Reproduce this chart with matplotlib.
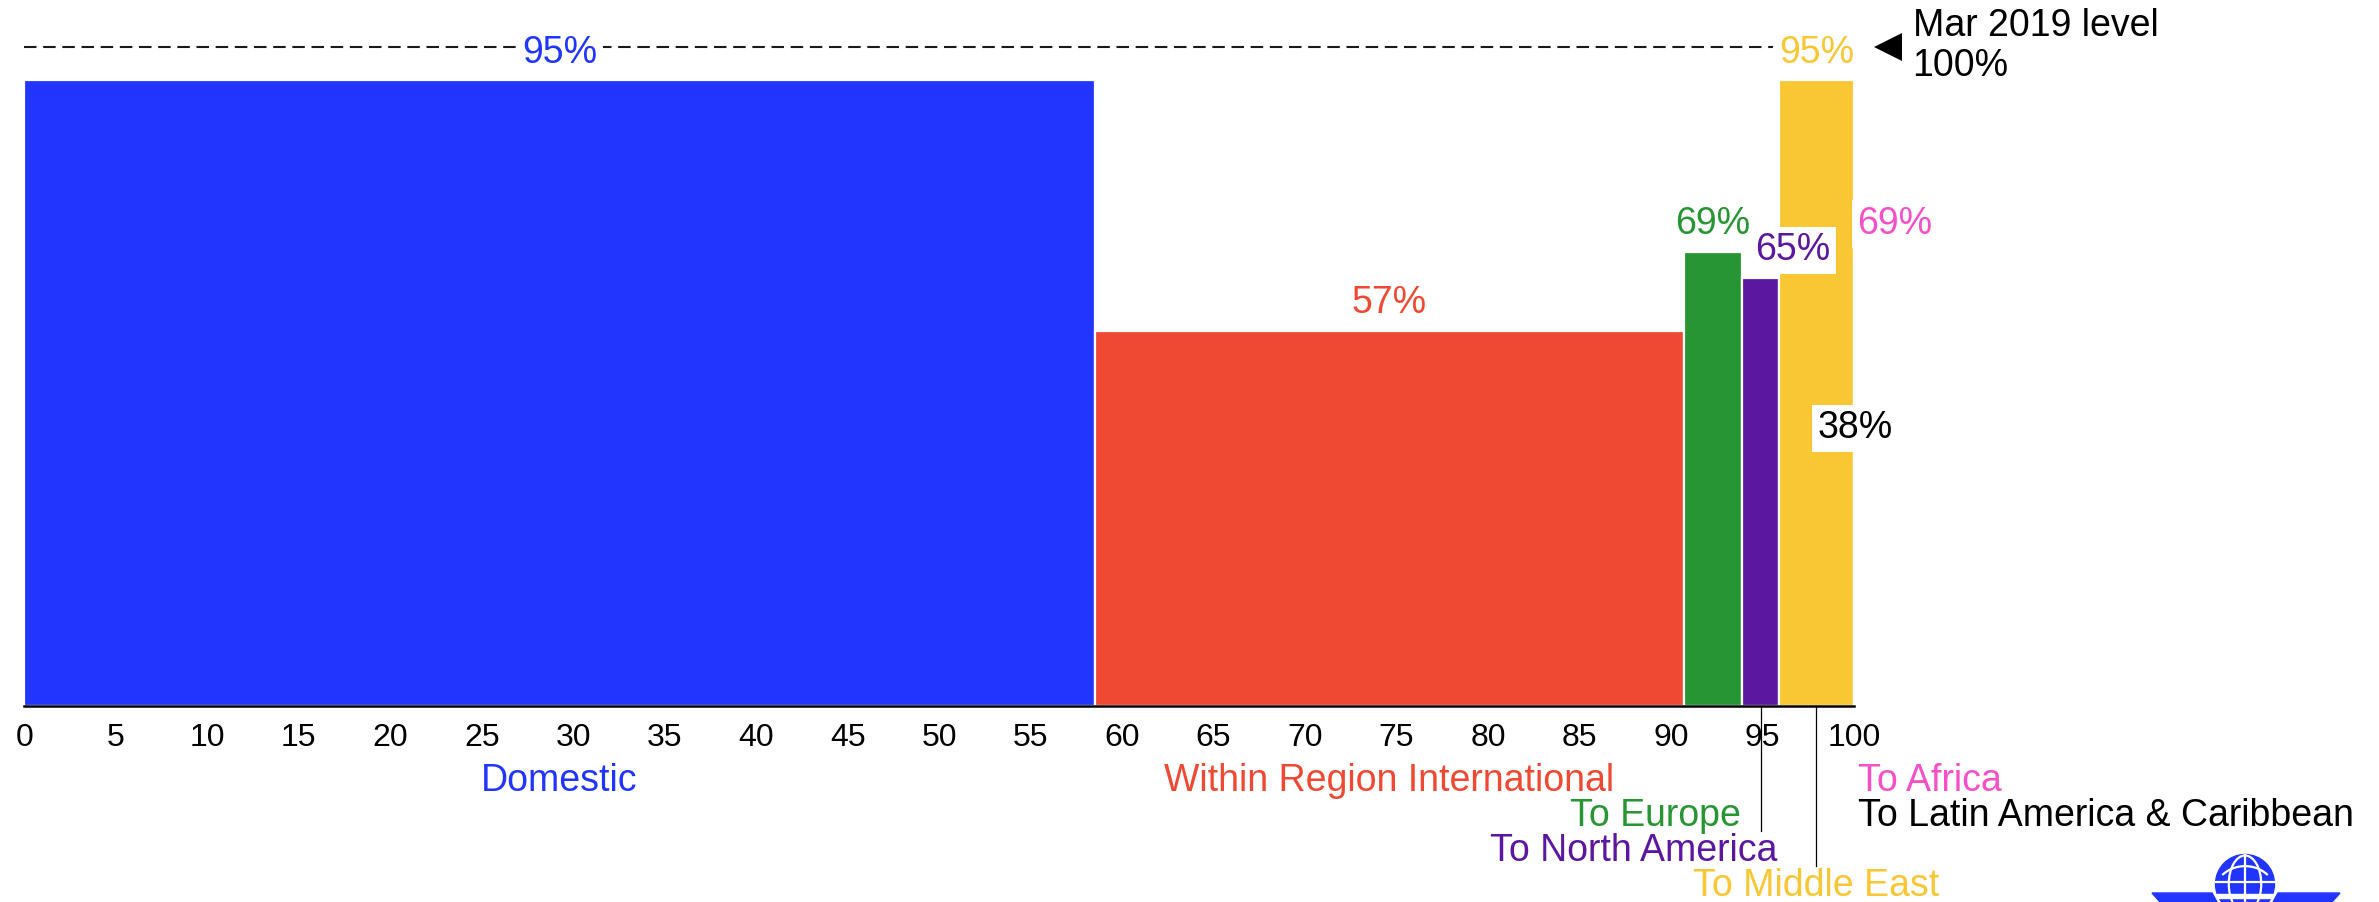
import numpy as np
import matplotlib
matplotlib.use('Agg')
import matplotlib.pyplot as plt
from matplotlib.patches import Circle, Ellipse, Polygon, Rectangle

# ---------------- data ----------------
categories = ['Domestic', 'Within Region International', 'To Europe', 'To North America',
              'To Middle East', 'To Africa', 'To Latin America & Caribbean']
shares = [58.5, 32.2, 3.2, 2.0, 4.1, 0.0, 0.0]          # % of capacity (bar widths)
recovery = [95, 57, 69, 65, 95, 69, 38]                  # % of Mar 2019 level (bar heights)
xticks = list(range(0, 101, 5))
reference_level = 100
reference_label = 'Mar 2019 level\n100%'

# ---------------- styles / layout ----------------
colors = ['#2135FF', '#F04933', '#289534', '#5C17A1', '#F9C733', '#F550C8', '#000000']
name_row = [0, 0, 1, 2, 3, 0, 1]
name_anchor = ['center', 'center', 'right', 'right', 'center', 'left', 'left']
val_ha = ['center', 'center', 'center', 'left', 'center', 'left', 'left']
val_dx = [0, 0, 0, -0.3, 0, 0.2, -2.0]
leader = [False, False, False, True, True, False, False]

FONT = ['Liberation Sans', 'Arial', 'DejaVu Sans']
plt.rcParams['font.family'] = FONT
LBL = 27
TCK = 23

fig = plt.figure(figsize=(23.79, 9.02), dpi=100)
fig.patch.set_facecolor('white')
ax = fig.add_axes([0.0102, 0.2168, 0.7691, 0.7306])
ax.set_xlim(0, 100)
ax.set_ylim(0, 100)

widths = np.array(shares, dtype=float)
lefts = np.concatenate([[0], np.cumsum(widths)[:-1]])
centers = lefts + widths / 2
rights = lefts + widths

ax.bar(lefts, recovery, width=widths, align='edge', color=colors,
       edgecolor='white', linewidth=1.6, zorder=1)

# reference dashed line
ax.plot([0, 100], [reference_level, reference_level], ls=(0, (6, 3.2)), lw=1.5,
        color='#1a1a1a', clip_on=False, zorder=2)
ax.plot([101.85], [reference_level], marker='<', ms=20, color='black',
        clip_on=False, zorder=3, markeredgewidth=0)
ax.text(103.2, reference_level + 0.2, reference_label, ha='left', va='center',
        fontsize=LBL, linespacing=1.12, color='black', clip_on=False)

# value labels
for i, v in enumerate(recovery):
    if name_anchor[i] == 'left':
        x = rights[i] + val_dx[i]
    else:
        x = centers[i] + val_dx[i]
    ax.text(x, v + 4.2, f'{v}%', ha=val_ha[i], va='center', fontsize=LBL,
            color=colors[i], zorder=4, clip_on=False,
            bbox=dict(boxstyle='square,pad=0.15', fc='white', ec='none'))

# category labels below axis
for i, name in enumerate(categories):
    y = -11.3 - 5.3 * name_row[i]
    if name_anchor[i] == 'center':
        x, ha = centers[i], 'center'
    elif name_anchor[i] == 'right':
        x, ha = rights[i] - 0.1, 'right'
    else:
        x, ha = rights[i] + 0.2, 'left'
    ax.text(x, y, name, ha=ha, va='center', fontsize=LBL, color=colors[i], clip_on=False)
    if leader[i]:
        ax.plot([centers[i], centers[i]], [0, y + 3.0], color='black', lw=0.9,
                clip_on=False, zorder=0)

# axes styling
for s in ['top', 'right', 'left']:
    ax.spines[s].set_visible(False)
ax.spines['bottom'].set_linewidth(1.8)
ax.spines['bottom'].set_color('black')
ax.spines['bottom'].set_zorder(5)
ax.set_yticks([])
ax.set_xticks(xticks)
ax.set_xticklabels([str(t) for t in xticks])
ax.tick_params(axis='x', length=0, pad=12, labelsize=TCK, labelcolor='black')

# logo (globe with wings), bottom right
lax = fig.add_axes([0, 0, 1, 1], zorder=10)
lax.set_xlim(0, 2379)
lax.set_ylim(0, 902)
lax.axis('off')
lax.patch.set_alpha(0)
blue = '#2135FF'
cx, cy, r = 2245, 18, 29.5
lax.add_patch(Circle((cx, cy), r, color=blue))
lax.add_patch(Ellipse((cx, cy), 2 * r * 0.55, 2 * r - 2, fill=False, ec='white', lw=1.6))
lax.plot([cx, cx], [cy - r, cy + r], color='white', lw=1.6)
lax.plot([cx - r, cx + r], [cy + 2, cy + 2], color='white', lw=1.6)
lax.add_patch(Rectangle((cx - r - 2, 4), 2 * r + 4, 4, color='white'))
t = np.linspace(0.25 * np.pi, 0.75 * np.pi, 40)
lax.plot(cx + r * 1.05 * np.cos(t), cy - 8 + r * 1.05 * np.sin(t) * 0.9 - 2, color='white', lw=1.6)
lax.add_patch(Polygon([(2152, 9), (2212, 9), (2217, 0), (2160, 0)], color=blue))
lax.add_patch(Polygon([(2278, 9), (2340, 9), (2332, 0), (2273, 0)], color=blue))

fig.savefig('out.png', dpi=100, facecolor='white')
